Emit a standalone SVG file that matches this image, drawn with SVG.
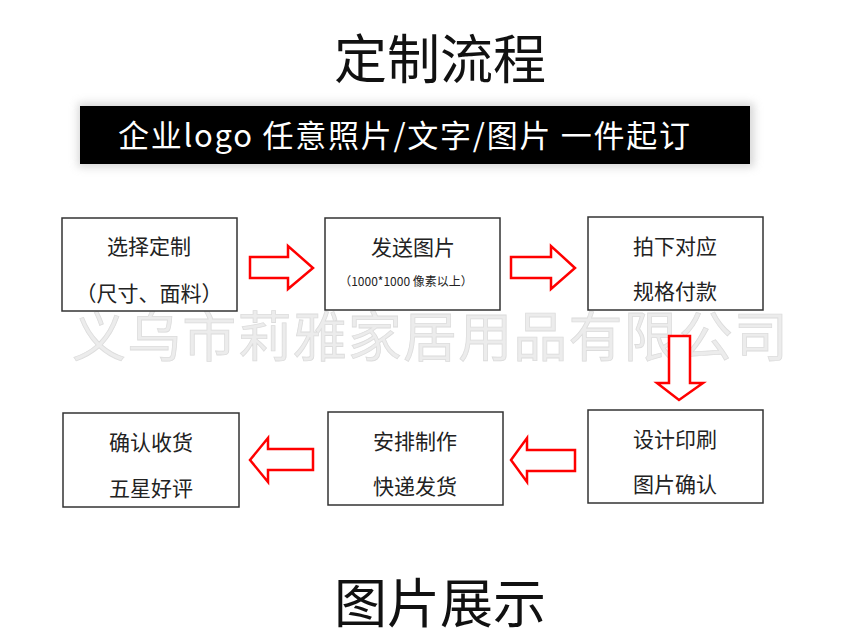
<svg xmlns="http://www.w3.org/2000/svg" width="858" height="639" viewBox="0 0 858 639">
<defs>
<style>
.cjk{font-family:"Noto Sans CJK SC","Liberation Sans",sans-serif;}
.title{font-size:53px;fill:#111;text-anchor:middle;}
.box{fill:#fff;stroke:#333;stroke-width:1.5;}
.lbl{font-size:21px;fill:#222;text-anchor:middle;}
.small{font-size:12px;fill:#222;text-anchor:middle;}
.arrow{fill:#fff;stroke:#ff0000;stroke-width:2.5;stroke-linejoin:miter;}
.wm{font-size:54px;fill:#ececec;stroke:#dcdcdc;stroke-width:0.8;text-anchor:middle;}
</style>
<filter id="blur" x="-5%" y="-50%" width="110%" height="200%"><feGaussianBlur stdDeviation="4"/></filter>
</defs>
<rect width="858" height="639" fill="#fff"/>
<text class="cjk title" x="440" y="79">定制流程</text>
<g id="banner">
<rect x="78" y="103" width="676" height="64" fill="#bbb" filter="url(#blur)" opacity="0.6"/>
<rect x="80" y="106" width="670" height="58" fill="#000"/>
<text class="cjk" x="118" y="147" font-size="31" fill="#fff" textLength="572" lengthAdjust="spacing">企业logo 任意照片/文字/图片 一件起订</text>
</g>
<text class="cjk wm" x="430" y="357" textLength="716" lengthAdjust="spacing">义乌市莉雅家居用品有限公司</text>
<g id="n1"><rect class="box" x="62" y="218" width="175" height="93"/><text class="cjk lbl" x="149" y="254">选择定制</text><text class="cjk lbl" x="149" y="301">（尺寸、面料）</text></g>
<g id="n2"><rect class="box" x="325" y="218" width="175" height="92"/><text class="cjk lbl" x="413" y="255">发送图片</text><text class="cjk small" x="406" y="286">（1000*1000 像素以上）</text></g>
<g id="n3"><rect class="box" x="588" y="217" width="175" height="93"/><text class="cjk lbl" x="675" y="254">拍下对应</text><text class="cjk lbl" x="675" y="299">规格付款</text></g>
<g id="n4"><rect class="box" x="588" y="410" width="175" height="93"/><text class="cjk lbl" x="675" y="447">设计印刷</text><text class="cjk lbl" x="675" y="492">图片确认</text></g>
<g id="n5"><rect class="box" x="328" y="412" width="175" height="93"/><text class="cjk lbl" x="415" y="449">安排制作</text><text class="cjk lbl" x="415" y="494">快递发货</text></g>
<g id="n6"><rect class="box" x="63" y="413" width="176" height="94"/><text class="cjk lbl" x="151" y="450">确认收货</text><text class="cjk lbl" x="151" y="496">五星好评</text></g>
<g id="connectors">
<polygon class="arrow" points="250,257 288,257 288,246 313,268 288,289 288,278 250,278"/>
<polygon class="arrow" points="511,257 551,257 551,246 575,268 551,289 551,278 511,278"/>
<polygon class="arrow" points="669,336 690,336 690,383 703,383 679,400 657,383 669,383"/>
<polygon class="arrow" points="575,450 527,450 527,438 511,460 527,482 527,471 575,471"/>
<polygon class="arrow" points="313,449 268,449 268,438 250,460 268,482 268,470 313,470"/>
</g>
<text class="cjk title" x="440" y="623">图片展示</text>
</svg>
